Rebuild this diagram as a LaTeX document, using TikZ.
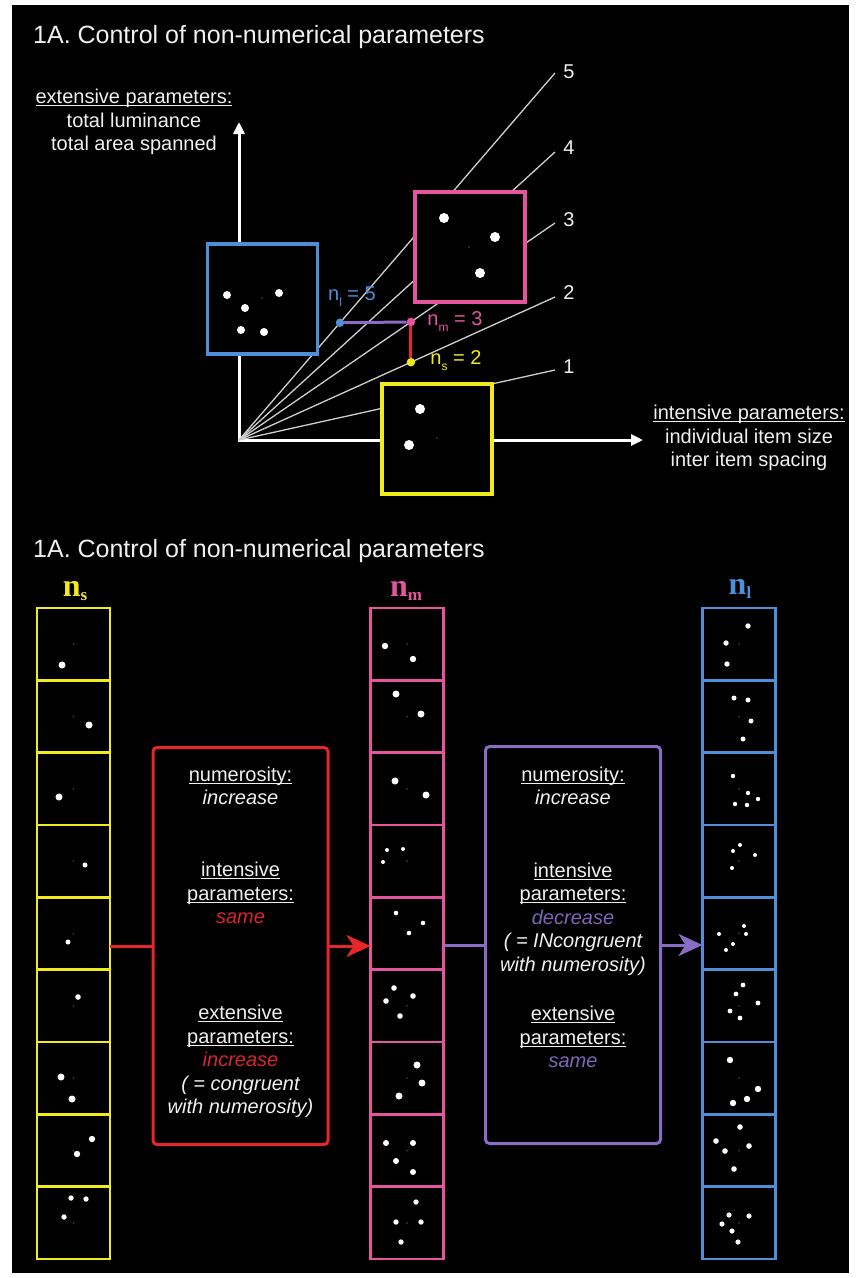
\documentclass[tikz,border=0pt]{standalone}
\usepackage{fontspec}
\setsansfont{Liberation Sans}
\newfontfamily\hdrfont{Liberation Serif}
\usetikzlibrary{arrows.meta,calc}

\definecolor{cyel}{HTML}{F2EB1B}
\definecolor{cpink}{HTML}{E4559D}
\definecolor{cblue}{HTML}{4F8FD8}
\definecolor{cred}{HTML}{E8262A}
\definecolor{cpurp}{HTML}{8B6CC4}
\definecolor{credtxt}{HTML}{D9262C}
\definecolor{cpurptxt}{HTML}{7F66B8}
\definecolor{ctext}{HTML}{F0F0F0}
\definecolor{craygray}{HTML}{CFCFCF}
\definecolor{cfix}{HTML}{3C3C3C}

% underline sitting just below the baseline
\newcommand\ulin[1]{\setbox0\hbox{#1}\rlap{\rule[-2.6pt]{\wd0}{1.2pt}}\box0}
\newcommand\subl[1]{\raisebox{-6pt}{\fontsize{12}{12}\selectfont #1}}
\newcommand\hsub[1]{\raisebox{-4pt}{\fontsize{17}{17}\selectfont #1}}

\tikzset{
  txt/.style={text=ctext, inner sep=0pt, align=center, font=\sffamily\fontsize{20}{23.5}\selectfont},
  ttl/.style={text=ctext, inner sep=0pt, anchor=base west, font=\sffamily\fontsize{25}{30}\selectfont},
  axisline/.style={draw=white, line width=3pt, {Triangle[length=12pt,width=11pt]}-{Triangle[length=12pt,width=11pt]}},
  ray/.style={draw=craygray, line width=1.3pt},
  raylbl/.style={text=ctext, inner sep=0pt, font=\sffamily\fontsize{20}{24}\selectfont},
  panel/.style={draw=#1, fill=black, line width=3.5pt, minimum width=110pt, minimum height=110pt, inner sep=0pt, outer sep=0pt},
  marker/.style={circle, fill=#1, inner sep=0pt, minimum size=8.5pt, outer sep=0pt},
  ptlbl/.style={text=#1, inner sep=0pt, font=\sffamily\fontsize{20}{24}\selectfont},
  column/.style={draw=#1, line width=2.6pt, minimum width=73pt, minimum height=651pt, inner sep=0pt, outer sep=0pt},
  rulebox/.style={draw=#1, line width=3pt, rounded corners=4pt, minimum width=175pt, minimum height=397pt, inner sep=0pt, outer sep=0pt},
  hdr/.style={text=#1, inner sep=0pt, font=\hdrfont\bfseries\fontsize{32}{32}\selectfont},
  link/.style={draw=#1, line width=3pt},
}

\begin{document}
\begin{tikzpicture}[x=1pt,y=-1pt]
\useasboundingbox (0,0) rectangle (856,1278);
\fill[white] (0,0) rectangle (856,1278);
\fill[black] (12,5) rectangle (849,1273);

% ---------------- upper panel ----------------
\node[ttl] (title1) at (33,43) {1A. Control of non-numerical parameters};

\coordinate (O) at (239,440);
\draw[axisline] (239,122) -- (O) -- (643,440);

\node[txt] (extlbl) at (134,122) {\ulin{extensive parameters:}\\total luminance\\total area spanned};
\node[txt] (intlbl) at (749,438) {\ulin{intensive parameters:}\\individual item size\\inter item spacing};

% numerosity rays
\coordinate (r5) at (555,73);
\coordinate (r4) at (555,152);
\coordinate (r3) at (555,223);
\coordinate (r2) at (555,297);
\coordinate (r1) at (555,370);
\foreach \k in {1,...,5} {
  \draw[ray] (O) -- (r\k);
}
\node[raylbl] (l5) at (569,72) {5};
\node[raylbl] (l4) at (569,148) {4};
\node[raylbl] (l3) at (569,220) {3};
\node[raylbl] (l2) at (569,293) {2};
\node[raylbl] (l1) at (569,367) {1};

% example displays
\node[panel=cblue] (bl) at (262.5,299) {};
\node[panel=cpink] (bm) at (470,247) {};
\node[panel=cyel]  (bs) at (437,439) {};
\foreach \x/\y in {227/295, 279/293, 245/308, 241/330, 264/332}
  \fill[white] (\x,\y) circle[radius=4pt];
\foreach \x/\y in {444/218, 495/237, 480/273}
  \fill[white] (\x,\y) circle[radius=5pt];
\foreach \x/\y in {420/409, 409/445}
  \fill[white] (\x,\y) circle[radius=5pt];
\foreach \x/\y in {262/298, 469/247, 437/438}
  \fill[cfix] (\x,\y) circle[radius=1pt];

% chosen numerosities
\node[marker=cblue] (pl) at ($(O)!0.3196!(r5)$) {};
\node[marker=cpink] (pm) at ($(O)!0.544!(r3)$) {};
\node[marker=cyel]  (ps) at ($(O)!0.544!(r2)$) {};
\draw[cpurp, line width=3pt] (pl) -- (pm);
\draw[cred, line width=3pt] (pm) -- (ps);
\node[ptlbl=cblue] (tl) at (352,297) {n\subl{l} = 5};
\node[ptlbl=cpink] (tm) at (455,322) {n\subl{m} = 3};
\node[ptlbl=cyel]  (ts) at (456,361) {n\subl{s} = 2};

% ---------------- lower panel ----------------
\node[ttl] (title2) at (33,557) {1A. Control of non-numerical parameters};

\node[hdr=cyel]  (hs) at (75,591)  {n\hsub{s}};
\node[hdr=cpink] (hm) at (406,591) {n\hsub{m}};
\node[hdr=cblue] (hl) at (740,589) {n\hsub{l}};

\node[column=cyel]  (colS) at (73.5,933.5) {};
\node[column=cpink] (colM) at (407,933.5) {};
\node[column=cblue] (colL) at (739,933.5) {};

\foreach \k in {1,...,8} {
  \draw[cyel, line width=2.6pt]  (37,608+\k*72.33) -- (110,608+\k*72.33);
  \draw[cpink, line width=2.6pt] (370.5,608+\k*72.33) -- (443.5,608+\k*72.33);
  \draw[cblue, line width=2.6pt] (702.5,608+\k*72.33) -- (775.5,608+\k*72.33);
}
\foreach \k in {0,...,8} {
  \fill[cfix] (73.5,644.2+\k*72.33) circle[radius=1pt];
  \fill[cfix] (407,644.2+\k*72.33) circle[radius=1pt];
  \fill[cfix] (739,644.2+\k*72.33) circle[radius=1pt];
}

% small numerosity
\foreach \x/\y/\r in {62/665/3.5, 89/725/3.5, 59/797/3.5, 85/865/2.5, 68/942/2.5,
  78/997/2.8, 61/1077/3.5, 72/1099/3.5, 92/1139/3.2, 77/1154/3.2,
  71/1198/2.7, 86/1199/2.7, 64/1217/2.7}
  \fill[white] (\x,\y) circle[radius=\r pt];
% medium numerosity
\foreach \x/\y/\r in {385/646/3.2, 413/659/3.2, 396/694/3.5, 421/714/3.5,
  395/781/3.5, 426/795/3.5, 387/850/2, 403/849/2, 383/862/2,
  396/913/2.3, 423/923/2.3, 409/933/2.3,
  394/988/2.8, 413/996/2.8, 386/1001/2.8, 400/1016/2.8,
  417/1065/3.5, 422/1083/3.5, 399/1096/3.5,
  386/1143/3, 413/1143/3, 396/1161/3, 413/1172/3,
  416/1202/2.7, 396/1222/2.7, 421/1222/2.7, 401/1242/2.7}
  \fill[white] (\x,\y) circle[radius=\r pt];
% large numerosity
\foreach \x/\y/\r in {748/626/2.7, 726/643/2.7, 727/664/2.7,
  734/698/2.5, 748/700/2.5, 751/721/2.5, 743/739/2.5,
  733/776/2.2, 748/793/2.2, 758/799/2.2, 735/804/2.2, 747/805/2.2,
  740/845/2, 733/851/2, 755/855/2, 732/868/2,
  744/926/2, 719/934/2, 746/934/2, 733/944/2, 726/950/2,
  743/985/2.4, 736/994/2.4, 758/1003/2.4, 730/1011/2.4, 740/1018/2.4,
  730/1060/3.2, 758/1089/3.2, 747/1099/3.2, 733/1103/3.2,
  740/1127/2.8, 716/1141/2.8, 749/1146/2.8, 725/1151/2.8, 734/1169/2.8,
  729/1215/2.6, 749/1216/2.6, 722/1224/2.6, 732/1231/2.6, 738/1242/2.6}
  \fill[white] (\x,\y) circle[radius=\r pt];

% transition boxes
\node[rulebox=cred]  (redbox)  at (240.5,946) {};
\node[rulebox=cpurp] (purpbox) at (573,945) {};

\draw[link=cred] (colS.east |- redbox.west) -- (redbox.west);
\draw[link=cred, -{Stealth[length=24pt,width=22pt,inset=7pt]}] (redbox.east) -- (redbox.east -| colM.west);
\draw[link=cpurp] (colM.east |- purpbox.west) -- (purpbox.west);
\draw[link=cpurp, -{Stealth[length=24pt,width=22pt,inset=7pt]}] (purpbox.east) -- (purpbox.east -| colL.west);

\node[txt] (rnum) at (240.5,786) {\ulin{numerosity:}\\\itshape increase};
\node[txt] (rint) at (240.5,893) {\ulin{intensive}\\\ulin{parameters:}\\\color{credtxt}\itshape same};
\node[txt] (rext) at (240.5,1061.5) {\ulin{extensive}\\\ulin{parameters:}\\\color{credtxt}\itshape increase\\\itshape ( = congruent\\\itshape with numerosity)};

\node[txt] (pnum) at (573,786) {\ulin{numerosity:}\\\itshape increase};
\node[txt] (pint) at (573,919) {\ulin{intensive}\\\ulin{parameters:}\\\color{cpurptxt}\itshape decrease\\\itshape ( = INcongruent\\\itshape with numerosity)};
\node[txt] (pext) at (573,1037) {\ulin{extensive}\\\ulin{parameters:}\\\color{cpurptxt}\itshape same};
\end{tikzpicture}
\end{document}
